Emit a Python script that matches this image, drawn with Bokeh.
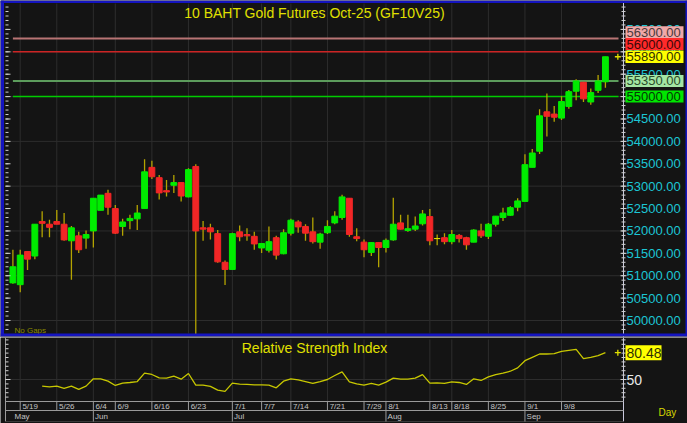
from bokeh.plotting import figure
from bokeh.layouts import column
from bokeh.models import Range1d, ColumnDataSource
from bokeh.core.properties import value
from bokeh.embed import file_html
from bokeh.resources import INLINE

# ------------------------------------------------------------------ data
opens = [50840, 50800, 51540, 51440, 52210, 52150, 52210, 52150, 51780, 51890,
         51840, 52000, 52460, 52840, 52500, 52100, 52230, 52270, 52500, 53420,
         53190, 52900, 53020, 53080, 52760, 53440, 52070, 52070, 51940, 51300,
         51140, 51980, 51920, 51880, 51620, 51570, 51850, 51490, 51950, 52200,
         52100, 51980, 51750, 51960, 52180, 52300, 52730, 51870, 51750, 51520,
         51740, 51630, 51800, 52180, 52010, 52040, 52160, 52320, 51830, 51850,
         51760, 51900, 51850, 51750, 52000, 51880, 52150, 52300, 52350, 52530,
         52660, 53420, 53780, 54660, 54610, 54520, 54780, 55120, 55320, 54880,
         55140, 55330]
highs = [51580, 51580, 51540, 52150, 52440, 52250, 52470, 52400, 52110, 51980,
         52010, 52730, 52800, 52920, 52580, 52270, 52360, 52580, 53600, 53570,
         53250, 53140, 53250, 53080, 53400, 53490, 52220, 52160, 52020, 51340,
         51960, 52120, 52060, 51980, 51730, 52100, 51890, 52040, 52270, 52240,
         52150, 52300, 51960, 52240, 52440, 52810, 52730, 52060, 51810, 51740,
         51740, 51830, 52740, 52360, 52360, 52320, 52470, 52490, 51920, 51950,
         52020, 51930, 51870, 52040, 52160, 52180, 52330, 52520, 52550, 52730,
         53710, 53830, 54720, 55070, 54790, 55010, 55150, 55390, 55320, 55180,
         55480, 55890]
lows = [50820, 50630, 51130, 51370, 51860, 51860, 52150, 51780, 50910, 51510,
        51600, 51630, 52460, 52360, 51930, 51890, 52040, 52020, 52500, 53160,
        52700, 52770, 52850, 52660, 52750, 49700, 51780, 51810, 51290, 50790,
        51140, 51770, 51780, 51580, 51510, 51520, 51360, 51480, 51900, 51960,
        51780, 51720, 51600, 51930, 52150, 52250, 51870, 51770, 51410, 51440,
        51190, 51520, 51780, 52030, 51980, 52000, 52120, 51680, 51680, 51700,
        51700, 51740, 51580, 51750, 51840, 51820, 52100, 52220, 52340, 52440,
        52660, 53420, 53720, 54110, 54440, 54480, 54730, 54920, 54880, 54820,
        55080, 55200]
closes = [51200, 51460, 51370, 52150, 52170, 52080, 52150, 51800, 52070, 51580,
          51920, 52730, 52800, 52530, 51950, 52200, 52280, 52400, 53320, 53210,
          52850, 52870, 53080, 52780, 53370, 52000, 52040, 51980, 51310, 51140,
          51940, 51870, 51890, 51710, 51720, 51760, 51460, 51960, 52240, 52090,
          51950, 51760, 51930, 52100, 52330, 52760, 51920, 51830, 51580, 51740,
          51630, 51790, 52150, 52040, 52050, 52110, 52380, 51780, 51830, 51760,
          51920, 51830, 51690, 52020, 51890, 52150, 52330, 52400, 52520, 52670,
          53480, 53740, 54570, 54560, 54540, 54890, 55110, 55350, 54950, 55090,
          55350, 55890]

rsi_start = 4
rsi_values = [42.5, 41.7, 42.5, 39.9, 42.5, 38.7, 42.5, 50.8, 50.8, 48.1,
              43.2, 45.9, 46.6, 47.7, 57.2, 55.7, 51.9, 51.5, 53.8, 50.4,
              56.8, 43.6, 43.6, 42.1, 38.0, 36.5, 45.9, 44.7, 44.4, 44.0,
              44.0, 43.6, 40.6, 48.1, 50.8, 49.6, 47.7, 45.5, 47.7, 50.0,
              54.5, 58.6, 47.4, 45.1, 43.6, 45.5, 43.6, 47.0, 51.5, 50.4,
              50.4, 51.5, 55.6, 45.9, 46.2, 45.5, 47.4, 46.6, 44.4, 50.8,
              48.9, 53.0, 55.6, 57.2, 59.4, 63.2, 71.4, 75.2, 79.0, 79.0,
              79.4, 82.0, 83.1, 84.2, 73.7, 75.2, 77.1, 80.48]

tick_labels = ["5/19", "5/26", "6/4", "6/9", "6/16", "6/23", "7/1", "7/7", "7/14",
               "7/21", "7/29", "8/1", "8/13", "8/18", "8/25", "9/1", "9/8"]
tick_idx = [1, 6, 11, 14, 19, 24, 30, 34, 38, 43, 48, 51, 57, 60, 65, 70, 75]
month_labels = ["May", "Jun", "Jul", "Aug", "Sep"]
month_idx = [0, 11, 30, 51, 70]

price_ticks = [50000, 50500, 51000, 51500, 52000, 52500, 53000, 53500, 54000,
               54500, 55000, 55500, 56000, 56500]
grid_prices = [50000, 51000, 52000, 53000, 54000, 55000, 56000]
levels = [56300, 56000, 55350, 55000]
last_price = 55890
rsi_ticks = [50]
title_text = "10 BAHT Gold Futures Oct-25 (GF10V25)"
rsi_title = "Relative Strength Index"
unit_text = "Day"

# ------------------------------------------------------------------ style
BG = "#141414"
GRID = "#2d2d2d"
FONT = "Liberation Sans"
CYAN = "#1cc6d4"
YEL = "#e0e000"
UP = "#00ec00"
DN = "#f22626"
WICK = "#b4a400"
BLUE = "#1414c0"
TICKC = "#d0d0d0"
AXC = "#c8c8dc"
SEP = "#9a9a9a"

level_line_colors = ["#b87474", "#cc2424", "#5c9c5c", "#00cc00"]
level_line_widths = [2, 1.5, 2, 1.5]
level_box_colors = ["#f0a8a8", "#ff2a2a", "#a4e6a4", "#00e600"]
level_text_colors = ["#4a3a3a", "#3a0808", "#2a4a2a", "#053805"]
level_box_shift = [6.2, 7.8, 0, 0]      # px shift of stacked price boxes

# pixel geometry helpers (layout only)
X0PX, DXPX = 12.4, 7.315
def ix(px):
    return (px - X0PX) / DXPX
K = 0.04478
def py(px):
    return 50000 + (320 - px) / K
RK = 0.88
def ry(px):
    return 50 + (379 - px) / RK

def mkfig(h, yr):
    f = figure(width=687, height=h, x_range=xr, y_range=yr, toolbar_location=None,
               output_backend="svg", background_fill_color=BG, border_fill_color=BG,
               outline_line_color=None, x_axis_location=None, y_axis_location=None,
               min_border_left=0, min_border_right=0, min_border_top=0,
               min_border_bottom=0)
    f.grid.visible = False
    return f

def txt(f, x, y, t, color, size, align="left"):
    f.text(x=x, y=y, text=t, text_align=align, text_baseline="middle", text_color=color,
           text_font=value(FONT), text_font_size=size)

xr = Range1d(ix(0), ix(687))
XL, XR = ix(5), ix(623)

# ------------------------------------------------------------------ main pane
main = mkfig(337, Range1d(py(337), py(0)))

main.segment(x0=XL, x1=XR, y0=grid_prices, y1=grid_prices, line_color=GRID, line_width=1)
main.segment(x0=tick_idx, x1=tick_idx, y0=py(333), y1=py(3), line_color=GRID, line_width=1)

main.segment(x0=0, x1=ix(618), y0=levels, y1=levels, line_color=level_line_colors,
             line_width=level_line_widths)

n = len(closes)
idx = list(range(n))
body_top = [max(o, c) for o, c in zip(opens, closes)]
body_bot = [min(o, c) for o, c in zip(opens, closes)]
body_col = [UP if c > o else (DN if c < o else YEL) for o, c in zip(opens, closes)]
src = ColumnDataSource(dict(x=idx, h=highs, l=lows, top=body_top, bottom=body_bot,
                            color=body_col))
main.segment(x0="x", y0="h", x1="x", y1="l", source=src, line_color=WICK, line_width=1.3)
main.vbar(x="x", width=0.8, top="top", bottom="bottom", source=src,
          fill_color="color", line_color="color", line_width=1)
main.scatter(x=[n - 1 + 1.7], y=[last_price], marker="cross", size=6,
             line_color=YEL, line_width=1.3)

# price scale (right) and tick marks (left / right)
minor_prices = list(range(49800, 57100, 100))
main.segment(x0=XR, x1=XR, y0=py(337), y1=py(0), line_color=AXC, line_width=1)
main.segment(x0=ix(620), x1=ix(626), y0=price_ticks, y1=price_ticks, line_color=TICKC)
main.segment(x0=ix(621), x1=ix(625), y0=minor_prices, y1=minor_prices, line_color=TICKC)
main.segment(x0=XL, x1=ix(10), y0=price_ticks, y1=price_ticks, line_color=TICKC)
main.segment(x0=XL, x1=ix(8), y0=minor_prices, y1=minor_prices, line_color=TICKC)
txt(main, ix(626), price_ticks, [f"{p:.2f}" for p in price_ticks], CYAN, "13px")

box_centers = [lv + sh / K for lv, sh in zip(levels, level_box_shift)]
main.quad(left=ix(625), right=ix(683), top=[c + 6 / K for c in box_centers],
          bottom=[c - 6 / K for c in box_centers], fill_color=level_box_colors,
          line_color=None)
txt(main, ix(626), box_centers, [f"{lv:.2f}" for lv in levels], level_text_colors, "13px")
main.quad(left=ix(625), right=ix(683), top=last_price + 6.3 / K,
          bottom=last_price - 6.3 / K, fill_color="#ffff00", line_color=None)
txt(main, ix(626), [last_price], [f"{last_price:.2f}"], "#303000", "13px")

txt(main, [(XL + XR) / 2], [py(12)], [title_text], YEL, "14px", "center")
txt(main, [ix(14)], [py(330)], ["No Gaps"], "#8a8a00", "8px")

# pane border
main.quad(left=[ix(0), ix(0), ix(685), ix(0)], right=[ix(687), ix(3.5), ix(687), ix(687)],
          top=[py(0), py(0), py(0), py(333)], bottom=[py(2.5), py(336), py(336), py(336)],
          fill_color=BLUE, line_color=None)
main.quad(left=ix(0), right=ix(687), top=py(336), bottom=py(337), fill_color="#a8a8b0",
          line_color=None)

# ------------------------------------------------------------------ RSI pane + time scale
rsi = mkfig(86, Range1d(ry(423), ry(337)))

minor_rsi = list(range(30, 96, 5))
rsi.segment(x0=XL, x1=XR, y0=rsi_ticks, y1=rsi_ticks, line_color=GRID)
rsi.segment(x0=tick_idx, x1=tick_idx, y0=ry(401), y1=ry(339), line_color=GRID)
rsi.segment(x0=[XL, XR], x1=[XL, XR], y0=ry(421), y1=ry(337), line_color=[SEP, AXC])
rsi.segment(x0=ix(620), x1=ix(626), y0=rsi_ticks, y1=rsi_ticks, line_color=TICKC)
rsi.segment(x0=ix(621), x1=ix(625), y0=minor_rsi, y1=minor_rsi, line_color=TICKC)
rsi.segment(x0=XL, x1=ix(10), y0=rsi_ticks, y1=rsi_ticks, line_color=TICKC)
rsi.segment(x0=XL, x1=ix(8), y0=minor_rsi, y1=minor_rsi, line_color=TICKC)
txt(rsi, ix(626), rsi_ticks, [str(t) for t in rsi_ticks], "#e8e8e8", "14px")

rsi.line(x=idx[rsi_start:], y=rsi_values, line_color="#c8c800", line_width=1.3)
rsi.scatter(x=[n - 1 + 1.7], y=[rsi_values[-1]], marker="cross", size=6,
            line_color=YEL, line_width=1.3)
rsi.quad(left=ix(625), right=ix(661), top=rsi_values[-1] + 7.5 / RK,
         bottom=rsi_values[-1] - 7.5 / RK, fill_color="#ffff00", line_color=None)
txt(rsi, ix(626), [rsi_values[-1]], [f"{rsi_values[-1]:.2f}"], "#303000", "14px")
txt(rsi, [(XL + XR) / 2], [ry(347)], [rsi_title], YEL, "14px", "center")

# time scale rows
rsi.segment(x0=XL, x1=XR, y0=[ry(401), ry(410), ry(421)], y1=[ry(401), ry(410), ry(421)],
            line_color=[SEP, SEP, "#3a3a3a"])
rsi.segment(x0=tick_idx, x1=tick_idx, y0=ry(401), y1=ry(410), line_color=SEP)
rsi.segment(x0=month_idx[1:], x1=month_idx[1:], y0=ry(410), y1=ry(421), line_color=SEP)
txt(rsi, [i + 2.2 / DXPX for i in tick_idx], ry(406.3), tick_labels, "#c4c4c4", "8px")
txt(rsi, [i + 1.6 / DXPX for i in month_idx], ry(415.8), month_labels, "#c4c4c4", "8px")
txt(rsi, [ix(658)], [ry(412)], [unit_text], "#d8d800", "10px")

layout = column(main, rsi)
open("out.html", "w").write(file_html(layout, INLINE))
